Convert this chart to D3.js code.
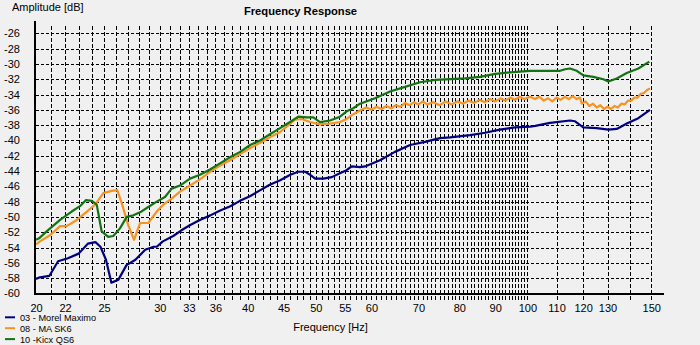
<!DOCTYPE html>
<html>
<head>
<meta charset="utf-8">
<script src="https://cdn.jsdelivr.net/npm/d3@7/dist/d3.min.js"></script>
<style>
  html, body { margin: 0; padding: 0; background: #f0f0f0; }
  svg { display: block; font-family: "Liberation Sans", Arial, sans-serif; }
</style>
</head>
<body>
<svg id="chart" width="700" height="345"></svg>
<script>
// Frequency labels along the bottom axis (Hz)
const freqTicks = [20, 22, 25, 30, 33, 36, 40, 45, 50, 55, 60, 70, 80, 90, 100, 110, 120, 130, 150];
// Amplitude labels on the left axis (dB)
const dbTicks = [-26, -28, -30, -32, -34, -36, -38, -40, -42, -44, -46, -48, -50, -52, -54, -56, -58, -60];

// Measured responses: [frequency Hz, amplitude dB]
const morelMaximo = [
  [20.0, -58.1], [20.26, -57.9], [20.9, -57.7], [21.5, -55.8], [22.2, -55.4], [23.0, -54.8],
  [23.7, -53.5], [24.3, -53.3], [24.7, -53.9], [25.15, -55.6], [25.6, -58.6], [26.2, -58.2],
  [26.9, -56.3], [27.7, -55.6], [28.6, -54.3], [29.4, -53.9], [29.7, -53.9], [30.3, -53.2],
  [31.35, -52.5], [32.2, -51.75], [33.1, -51.1], [34.2, -50.4], [35.4, -49.8], [36.5, -49.2],
  [37.8, -48.6], [39.0, -47.9], [40.3, -47.3], [41.7, -46.5], [43.0, -45.8], [44.5, -45.2],
  [46.0, -44.5], [47.2, -44.1], [48.3, -44.1], [49.1, -44.5], [49.9, -45.0], [51.25, -45.0],
  [52.7, -44.8], [54.1, -44.3], [55.3, -43.9], [56.25, -43.4], [57.8, -43.5], [58.75, -43.4],
  [61.7, -42.6], [64.8, -41.5], [68.1, -40.6], [71.5, -40.2], [75.1, -39.7], [77.6, -39.6],
  [82.9, -39.3], [87.05, -39.0], [91.4, -38.6], [96.05, -38.3], [100.9, -38.2], [102.6, -38.1],
  [107.7, -37.7], [115.0, -37.4], [116.9, -37.5], [120.1, -38.3], [125.5, -38.4], [130.4, -38.6],
  [134.0, -38.5], [138.5, -37.8], [143.8, -37.1], [149.4, -36.0]
];
const maSK6 = [
  [20.0, -53.6], [20.26, -53.2], [20.94, -52.4], [21.64, -51.2], [22.11, -51.2], [22.86, -50.4],
  [23.49, -49.5], [24.27, -48.4], [24.93, -46.9], [25.63, -46.6], [26.1, -46.5], [26.48, -48.2],
  [27.06, -51.1], [27.57, -53.0], [28.12, -50.8], [28.89, -50.8], [29.7, -49.3], [30.34, -48.4],
  [31.19, -47.6], [32.05, -46.7], [33.12, -45.9], [34.22, -45.1], [35.36, -44.1], [36.54, -43.3],
  [37.76, -42.6], [39.03, -41.8], [40.33, -41.0], [41.67, -40.3], [43.03, -39.6], [44.48, -38.9],
  [45.46, -38.2], [46.72, -37.3], [47.75, -37.2], [49.07, -37.6], [50.7, -37.9], [52.39, -37.8],
  [54.13, -37.6], [55.33, -37.2], [56.25, -36.7], [57.8, -36.1], [59.0, -35.7], [60.0, -36.0],
  [61.0, -35.6], [62.0, -35.9], [63.0, -35.5], [64.0, -35.8], [65.0, -35.4], [66.0, -35.6],
  [67.0, -35.1], [68.0, -35.4], [69.0, -35.0], [70.0, -35.3], [71.0, -34.9], [72.0, -35.3],
  [73.5, -35.0], [75.0, -35.4], [76.5, -34.9], [78.0, -35.3], [79.5, -34.9], [81.0, -35.2],
  [82.5, -34.8], [84.0, -35.1], [85.5, -34.7], [87.0, -35.0], [88.5, -34.6], [90.0, -34.9],
  [91.5, -34.5], [93.0, -34.8], [94.5, -34.4], [96.0, -34.7], [97.5, -34.3], [99.0, -34.6],
  [100.9, -34.3], [102.5, -34.6], [104.0, -34.3], [105.5, -34.8], [107.0, -34.5], [108.5, -34.9],
  [110.0, -34.4], [111.5, -34.7], [113.0, -34.3], [114.5, -34.6], [116.0, -34.2], [117.5, -34.6],
  [118.8, -34.4], [119.5, -35.2], [121.0, -34.9], [122.5, -35.5], [124.0, -35.2], [125.5, -35.7],
  [127.0, -35.4], [128.5, -35.9], [130.0, -35.6], [131.5, -35.9], [133.0, -35.5], [134.5, -35.7],
  [136.0, -35.2], [137.5, -35.3], [139.0, -34.8], [140.5, -34.8], [142.0, -34.4], [143.5, -34.4],
  [145.0, -33.9], [146.5, -33.8], [148.0, -33.4], [149.4, -33.2]
];
const kicxQS6 = [
  [20.0, -53.0], [20.2, -52.8], [20.71, -51.9], [21.64, -50.4], [22.48, -49.3], [23.1, -48.6],
  [23.56, -47.8], [24.01, -47.9], [24.4, -48.4], [24.8, -51.9], [25.34, -52.6], [25.76, -52.5],
  [26.33, -51.5], [26.92, -50.0], [27.51, -49.8], [28.12, -49.4], [28.89, -48.7], [29.7, -48.0],
  [30.51, -47.4], [31.19, -46.3], [32.05, -45.9], [33.12, -45.0], [34.22, -44.5], [35.36, -43.8],
  [36.54, -43.0], [37.76, -42.2], [39.03, -41.5], [40.33, -40.6], [41.67, -40.0], [43.03, -39.2],
  [44.48, -38.4], [45.96, -37.6], [47.22, -36.9], [48.54, -37.0], [49.6, -37.0], [50.7, -37.6],
  [52.39, -37.4], [54.13, -36.9], [55.33, -36.2], [56.54, -35.8], [57.8, -35.2], [60.71, -34.5],
  [63.77, -33.6], [66.98, -33.0], [70.35, -32.4], [73.9, -32.1], [77.62, -32.0], [81.53, -31.9],
  [85.64, -31.7], [89.96, -31.3], [94.49, -31.1], [100.89, -30.9], [102.56, -30.9], [107.7, -30.9],
  [111.29, -30.9], [113.13, -30.7], [115.0, -30.6], [117.55, -30.9], [120.12, -31.5], [124.12, -31.7],
  [128.25, -32.0], [130.37, -32.3], [133.99, -31.9], [138.45, -31.2], [143.82, -30.6], [149.1, -29.7]
];

const seriesNames = ["03 - Morel Maximo", "08 - MA SK6", "10 -Kicx QS6"];
const seriesColors = ["#000080", "#f7931e", "#137313"];
const seriesData = [morelMaximo, maSK6, kicxQS6];

const svg = d3.select("#chart");

const x = d3.scaleLog().domain([20, 150]).range([36, 651.2]);
const y = d3.scaleLinear().domain([-60, -26]).range([293.4, 33.3]);

const gridTop = 26, gridBottom = 300;

// vertical grid: every hertz up to 100, then every 10 Hz
const vGrid = d3.range(21, 101).concat([110, 120, 130, 140, 150]);
svg.append("g")
  .attr("transform", `translate(0,${gridBottom})`)
  .call(d3.axisBottom(x).tickValues(vGrid).tickSize(-(gridBottom - gridTop)).tickFormat(""))
  .call(g => g.select(".domain").remove())
  .call(g => g.selectAll(".tick line")
    .attr("stroke", "#000").attr("stroke-width", 1)
    .attr("stroke-dasharray", "4,2").attr("shape-rendering", "crispEdges"));

// horizontal grid
svg.append("g")
  .attr("transform", `translate(${x(20)},0)`)
  .call(d3.axisLeft(y).tickValues(dbTicks.filter(d => d > -60)).tickSize(-(x(150) - x(20))).tickFormat(""))
  .call(g => g.select(".domain").remove())
  .call(g => g.selectAll(".tick line")
    .attr("stroke", "#000").attr("stroke-width", 1)
    .attr("stroke-dasharray", "3,2").attr("shape-rendering", "crispEdges"));

// response curves
const line = d3.line().x(d => x(d[0])).y(d => y(d[1]));
seriesData.forEach((data, i) => {
  svg.append("path")
    .datum(data)
    .attr("fill", "none")
    .attr("stroke", seriesColors[i])
    .attr("stroke-width", 2.2)
    .attr("stroke-linejoin", "round")
    .attr("d", line);
});

// axis lines
svg.append("line").attr("x1", 35).attr("x2", 35).attr("y1", 21).attr("y2", 295)
  .attr("stroke", "#000").attr("stroke-width", 2).attr("shape-rendering", "crispEdges");
svg.append("line").attr("x1", 34).attr("x2", 664).attr("y1", 294).attr("y2", 294)
  .attr("stroke", "#000").attr("stroke-width", 2).attr("shape-rendering", "crispEdges");

// x tick labels
svg.append("g")
  .attr("transform", "translate(0,300)")
  .call(d3.axisBottom(x).tickValues(freqTicks).tickSize(0).tickPadding(0).tickFormat(d3.format("d")))
  .call(g => g.select(".domain").remove())
  .call(g => g.selectAll("text")
    .attr("y", 11.5).attr("dy", null)
    .attr("font-size", 11).attr("font-family", "Liberation Sans, Arial, sans-serif").attr("fill", "#000"));

// y tick labels
svg.append("g")
  .attr("transform", "translate(20,0)")
  .call(d3.axisLeft(y).tickValues(dbTicks).tickSize(0).tickPadding(0).tickFormat(d => String(d)))
  .call(g => g.select(".domain").remove())
  .call(g => g.selectAll("text")
    .attr("font-size", 11).attr("font-family", "Liberation Sans, Arial, sans-serif").attr("fill", "#000"));

// titles
svg.append("text").attr("x", 12).attr("y", 11).attr("font-size", 11).text("Amplitude [dB]");
svg.append("text").attr("x", 300.5).attr("y", 15).attr("text-anchor", "middle")
  .attr("font-size", 11.2).attr("font-weight", "bold").text("Frequency Response");
svg.append("text").attr("x", 330.5).attr("y", 331).attr("text-anchor", "middle")
  .attr("font-size", 11).text("Frequency [Hz]");

// legend
const legend = svg.append("g");
seriesNames.forEach((name, i) => {
  const ly = 317.3 + i * 10.9;
  legend.append("line").attr("x1", 5).attr("x2", 15).attr("y1", ly).attr("y2", ly)
    .attr("stroke", seriesColors[i]).attr("stroke-width", 2);
  legend.append("text").attr("x", 20).attr("y", ly + 3.6).attr("font-size", 9.2).text(name);
});
</script>
</body>
</html>
